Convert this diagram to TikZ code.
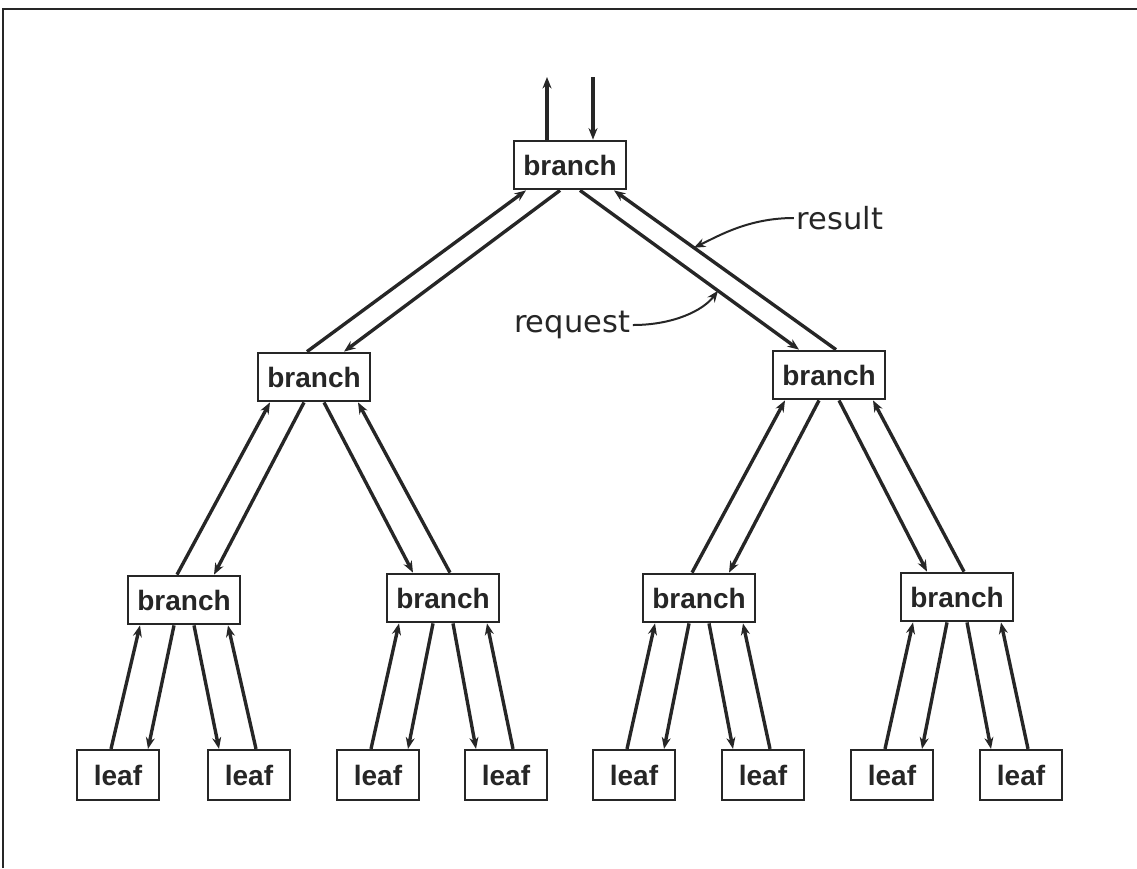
\documentclass[tikz,border=0pt]{standalone}
\usepackage{fontspec}
\usetikzlibrary{arrows.meta,calc}
\newfontfamily\boxfont{Liberation Sans}
\newfontfamily\labelfont{DejaVu Sans}
\definecolor{ink}{HTML}{262626}

% one parent/child pair: a request going down and a result coming back up
% #3 = -1 for a left child, +1 for a right child
\newcommand\pairlink[3]{%
  \draw[flow] ($(#2.north)+(#3*7,0)$) -- ($(#1.south)+(#3*44,0)$);
  \draw[flow] ($(#1.south)+(#3*10,0)$) -- ($(#2.north)+(-#3*30,0)$);
}

\begin{document}
\begin{tikzpicture}[x=0.4pt,y=-0.4pt,
  box/.style={draw=ink,line width=0.9pt,fill=white,inner sep=0pt,
    font=\boxfont\bfseries\fontsize{11.2pt}{13pt}\selectfont,text=ink},
  branchbox/.style={box,minimum width=45pt,minimum height=19.4pt},
  leafbox/.style={box,minimum width=32.8pt,minimum height=20pt},
  flow/.style={draw=ink,line width=1.35pt,-{Stealth[length=4.6pt,width=3.6pt]}},
  pointer/.style={draw=ink,line width=0.8pt,-{Stealth[length=4.6pt,width=3.6pt]}},
  lbl/.style={font=\labelfont\fontsize{12.2pt}{14pt}\selectfont,text=ink,inner sep=1pt}]

\useasboundingbox (0,0) rectangle (1137,868);
\fill[white] (0,0) rectangle (1137,868);

% frame edges
\draw[ink,line width=0.9pt] (3,868) -- (3,9) -- (1137,9);

% root
\node[branchbox] (r) at (570,165) {branch};

% level 1
\node[branchbox] (b1) at (314,377) {branch};
\node[branchbox] (b2) at (829,375) {branch};

% level 2
\node[branchbox] (c1) at (184,600) {branch};
\node[branchbox] (c2) at (443,598) {branch};
\node[branchbox] (c3) at (699,598) {branch};
\node[branchbox] (c4) at (957,597) {branch};

% leaves
\node[leafbox] (l1) at (118,775) {leaf};
\node[leafbox] (l2) at (249,775) {leaf};
\node[leafbox] (l3) at (378,775) {leaf};
\node[leafbox] (l4) at (506,775) {leaf};
\node[leafbox] (l5) at (634,775) {leaf};
\node[leafbox] (l6) at (763,775) {leaf};
\node[leafbox] (l7) at (892,775) {leaf};
\node[leafbox] (l8) at (1021,775) {leaf};

% external request and result at the root
\coordinate (outtop) at (547,77);
\coordinate (intop) at (593,77);
\draw[flow] ($(r.north)+(-23,0)$) -- (outtop);
\draw[flow] (intop) -- ($(r.north)+(23,0)$);

% tree links
\pairlink{r}{b1}{-1}
\pairlink{r}{b2}{1}
\pairlink{b1}{c1}{-1}
\pairlink{b1}{c2}{1}
\pairlink{b2}{c3}{-1}
\pairlink{b2}{c4}{1}
\pairlink{c1}{l1}{-1}
\pairlink{c1}{l2}{1}
\pairlink{c2}{l3}{-1}
\pairlink{c2}{l4}{1}
\pairlink{c3}{l5}{-1}
\pairlink{c3}{l6}{1}
\pairlink{c4}{l7}{-1}
\pairlink{c4}{l8}{1}

% labels with curved pointers
\node[lbl] (res) at (840,218) {result};
\node[lbl] (req) at (572,325) {request};
\coordinate (restip) at ($($(b2.north)+(7,0)$)!0.64!($(r.south)+(44,0)$)$);
\coordinate (reqtip) at ($($(r.south)+(10,0)$)!0.63!($(b2.north)+(-30,0)$)$);
\draw[pointer] (res.west) .. controls +(-45,0) and +(25,-12) .. (restip);
\draw[pointer] (req.east) .. controls +(40,0) and +(-15,20) .. (reqtip);

\end{tikzpicture}
\end{document}
